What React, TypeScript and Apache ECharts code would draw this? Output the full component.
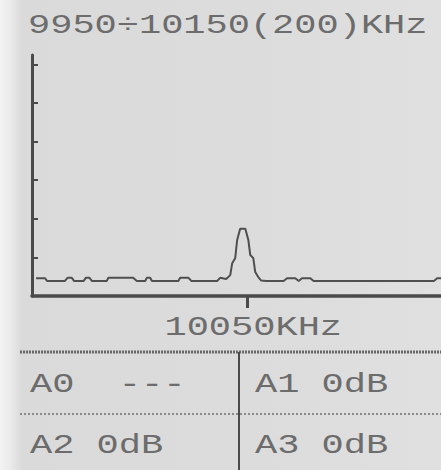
import React, { useEffect, useRef } from "react";
import * as echarts from "echarts";

// Spectrum trace (frequency in KHz, level in vertical divisions)
const freqKHz = [
  9951.9, 9956.0, 9957.0, 9965.3, 9966.5, 9968.5, 9969.5, 9974.0, 9975.0, 9976.7,
  9977.8, 9984.7, 9985.5, 9997.0, 9998.7, 10002.6, 10003.3, 10004.9, 10005.7, 10018.0,
  10018.8, 10022.7, 10024.0, 10036.0, 10037.4, 10040.2, 10042.1, 10043.0, 10044.4, 10045.3,
  10046.7, 10049.1, 10050.5, 10051.4, 10052.8, 10053.7, 10055.1, 10056.5, 10058.8, 10066.9,
  10068.5, 10072.3, 10073.9, 10075.4, 10079.3, 10080.8, 10136.7, 10138.2, 10140.0,
];
const levelDiv = [
  0.46, 0.46, 0.39, 0.39, 0.47, 0.47, 0.39, 0.39, 0.47, 0.47,
  0.39, 0.39, 0.47, 0.47, 0.39, 0.39, 0.47, 0.47, 0.39, 0.39,
  0.47, 0.47, 0.39, 0.39, 0.47, 0.44, 0.54, 0.85, 0.98, 1.45,
  1.74, 1.74, 1.45, 1.06, 0.98, 0.62, 0.49, 0.40, 0.39, 0.39,
  0.46, 0.46, 0.39, 0.46, 0.46, 0.39, 0.39, 0.46, 0.46,
];

const xMin = 9950;
const xMax = 10140;
const centerFreq = 10050;
const centerLabel = "10050KHz";
const yTicks = [1, 2, 3, 4, 5, 6];
const titleText = "9950÷10150(200)KHz";
const cellTexts = ["A0  ---", "A1 0dB", "A2 0dB", "A3 0dB"];

const INK = "#4a4a4a";
const TEXT = "#6c6c6c";
const FONT = "'Liberation Mono', 'DejaVu Sans Mono', monospace";

export default function App() {
  const ref = useRef<HTMLDivElement>(null);

  useEffect(() => {
    if (!ref.current) return;
    const chart = echarts.init(ref.current, null, { renderer: "svg" });
    chart.setOption({
      animation: false,
      backgroundColor: "transparent",
      grid: { left: 32, top: 55, right: 0, bottom: 174, containLabel: false },
      xAxis: {
        type: "value",
        min: xMin,
        max: xMax,
        axisLine: { show: true, onZero: false, lineStyle: { color: INK, width: 3.5 } },
        axisTick: {
          show: true,
          customValues: [centerFreq],
          length: 12,
          inside: false,
          lineStyle: { color: INK, width: 3 },
        },
        axisLabel: { show: false },
        splitLine: { show: false },
      },
      yAxis: {
        type: "value",
        min: 0,
        max: 6.24,
        axisLine: { show: true, lineStyle: { color: INK, width: 3 } },
        axisTick: {
          show: true,
          customValues: yTicks,
          inside: true,
          length: 6,
          lineStyle: { color: INK, width: 2 },
        },
        axisLabel: { show: false },
        splitLine: { show: false },
      },
      series: [
        {
          type: "line",
          data: freqKHz.map((f, i) => [f, levelDiv[i]]),
          symbol: "none",
          lineStyle: { color: "#4f4f4f", width: 2 },
        },
      ],
    });

    const px = chart.convertToPixel({ xAxisIndex: 0 }, centerFreq) as number;
    const txt = (text: string, x: number, y: number, align: string = "left") => ({
      type: "text",
      x,
      y,
      scaleX: 1.37,
      style: {
        text,
        fontFamily: FONT,
        fontSize: 27,
        fill: TEXT,
        textAlign: align,
        align,
        textVerticalAlign: "middle",
        verticalAlign: "middle",
      },
    });
    chart.setOption({
      graphic: [
        txt(titleText, 28, 26),
        txt(centerLabel, px + 6, 328, "center"),
        {
          type: "line",
          shape: { x1: 20, y1: 352, x2: 441, y2: 352 },
          style: { stroke: "#666", lineWidth: 3, lineDash: [2, 1] },
        },
        {
          type: "line",
          shape: { x1: 20, y1: 414, x2: 441, y2: 414 },
          style: { stroke: "#8a8a8a", lineWidth: 2, lineDash: [2, 2] },
        },
        {
          type: "line",
          shape: { x1: 239, y1: 352, x2: 239, y2: 470 },
          style: { stroke: INK, lineWidth: 2 },
        },
        txt(cellTexts[0], 30, 385),
        txt(cellTexts[1], 255, 385),
        txt(cellTexts[2], 30, 446),
        txt(cellTexts[3], 255, 446),
      ],
    });
    return () => chart.dispose();
  }, []);

  return (
    <div
      ref={ref}
      style={{
        position: "fixed",
        left: 0,
        top: 0,
        width: 441,
        height: 470,
        background:
          "linear-gradient(to right, #f3f3f3 0px, #ebebeb 10px, #dadada 22px, #dcdcdc 60%, #e0e0e0 100%)",
      }}
    />
  );
}
